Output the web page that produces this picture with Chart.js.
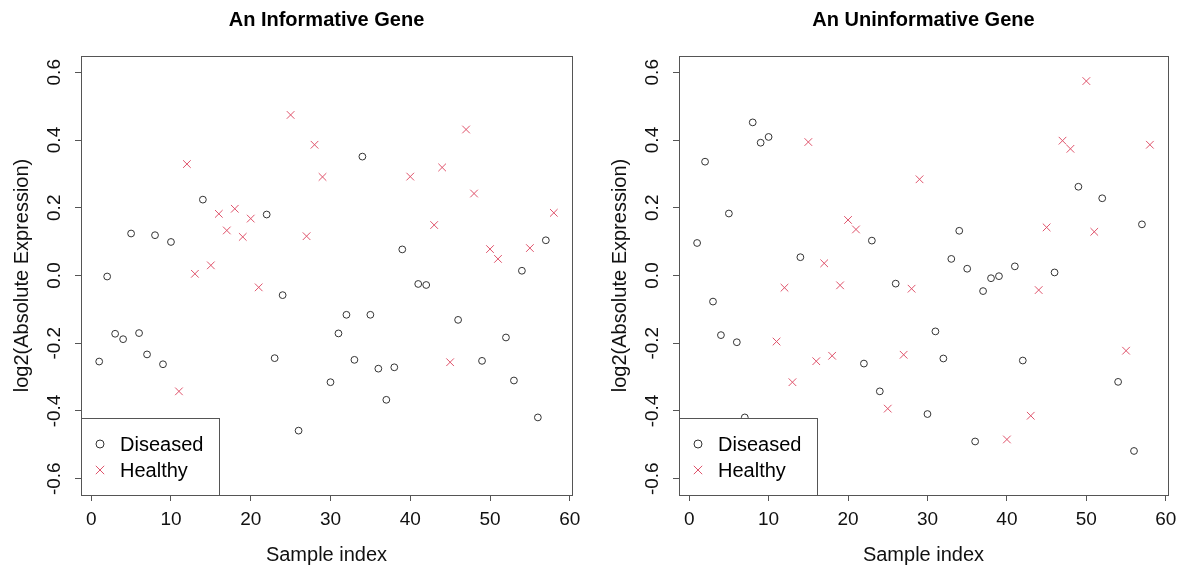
<!DOCTYPE html>
<html>
<head>
<meta charset="utf-8">
<title>An Informative Gene / An Uninformative Gene</title>
<script src="https://cdn.jsdelivr.net/npm/chart.js@4.4.0/dist/chart.umd.min.js"></script>
<style>
  html, body { margin: 0; padding: 0; background: #fff; }
  #wrap { position: relative; width: 1185px; height: 567px; overflow: hidden; }
  #wrap canvas { position: absolute; top: 0; }
  #grafInfo { left: 0; }
  #grafUninfo { left: 598px; }
</style>
</head>
<body>
<div id="wrap">
  <canvas id="grafInfo" width="598" height="567"></canvas>
  <canvas id="grafUninfo" width="587" height="567"></canvas>
</div>
<script>
/* ======= Data ======= */
const groupLabels = ['Diseased', 'Healthy'];

// sample index of each group
const diseasedIndex = [1, 2, 3, 4, 5, 6, 7, 8, 9, 10, 14, 22, 23, 24, 26, 30, 31, 32, 33, 34,
  35, 36, 37, 38, 39, 41, 42, 46, 49, 52, 53, 54, 56, 57];
const healthyIndex = [11, 12, 13, 15, 16, 17, 18, 19, 20, 21, 25, 27, 28, 29, 40, 43, 44, 45,
  47, 48, 50, 51, 55, 58];

// informative gene, log2 expression
const infoDiseased = [-0.254, -0.003, -0.172, -0.188, 0.124, -0.170, -0.233, 0.119, -0.262, 0.099,
  0.224, 0.180, -0.244, -0.058, -0.458, -0.315, -0.171, -0.116, -0.249, 0.351,
  -0.116, -0.275, -0.367, -0.271, 0.077, -0.025, -0.028, -0.131, -0.252, -0.183,
  -0.310, 0.014, -0.419, 0.104];
const infoHealthy = [-0.342, 0.329, 0.005, 0.030, 0.182, 0.133, 0.197, 0.114, 0.168, -0.035,
  0.474, 0.116, 0.386, 0.291, 0.292, 0.149, 0.319, -0.256, 0.431, 0.242,
  0.078, 0.049, 0.081, 0.185];

// uninformative gene (sample 53 falls outside the plotted range)
const uninfoDiseased = [0.096, 0.336, -0.077, -0.176, 0.183, -0.197, -0.419, 0.452, 0.392, 0.409,
  0.054, -0.260, 0.103, -0.342, -0.024, -0.409, -0.165, -0.245, 0.049, 0.132,
  0.020, -0.490, -0.046, -0.008, -0.002, 0.027, -0.251, 0.009, 0.262, 0.228,
  null, -0.314, -0.518, 0.151];
const uninfoHealthy = [-0.195, -0.036, -0.315, 0.394, -0.253, 0.036, -0.237, -0.029, 0.164, 0.136,
  -0.393, -0.234, -0.039, 0.284, -0.484, -0.414, -0.043, 0.142, 0.398, 0.374,
  0.574, 0.129, -0.222, 0.386];

const xTicks = [0, 10, 20, 30, 40, 50, 60];
const yTicks = [-0.6, -0.4, -0.2, 0.0, 0.2, 0.4, 0.6];
const xRange = [-1.28, 60.28];
const yRange = [-0.648, 0.648];

/* ======= Styles ======= */
const FONT = '"Liberation Sans", Arial, Helvetica, sans-serif';
const boxColor = '#555';
const textColor = '#111';
const circleColor = '#333';
const crossColor = '#DF536B';

Chart.defaults.font.family = FONT;
Chart.defaults.color = textColor;

function pares(idx, vals) {
  return idx.map((x, i) => ({ x: x, y: vals[i] }));
}

/* ======= Plugin: box around plot + R style legend ======= */
const caixaPlugin = {
  id: 'caixaPlugin',
  afterDatasetsDraw(chart) {
    const { ctx, chartArea: a } = chart;
    const ds = chart.data.datasets;
    ctx.save();

    // legend, bottom left inside the plot
    ctx.font = '20px ' + FONT;
    const textW = Math.max(...ds.map(d => ctx.measureText(d.label).width));
    const w = Math.round(39 + textW + 16);
    const h = 77;
    const x0 = Math.round(a.left), y0 = Math.round(a.bottom) - h;
    ctx.fillStyle = '#fff';
    ctx.fillRect(x0, y0, w, h);
    ctx.strokeStyle = boxColor;
    ctx.lineWidth = 1;
    ctx.strokeRect(x0 + 0.5, y0 + 0.5, w, h);

    ds.forEach((d, i) => {
      const cy = y0 + 26 + i * 26;
      const cx = x0 + 19;
      ctx.strokeStyle = d.borderColor;
      ctx.lineWidth = 1;
      ctx.beginPath();
      if (d.pointStyle === 'circle') {
        ctx.arc(cx, cy, 4, 0, Math.PI * 2);
      } else {
        const r = 4.2;
        ctx.moveTo(cx - r, cy - r); ctx.lineTo(cx + r, cy + r);
        ctx.moveTo(cx + r, cy - r); ctx.lineTo(cx - r, cy + r);
      }
      ctx.stroke();
      ctx.fillStyle = '#000';
      ctx.textBaseline = 'middle';
      ctx.textAlign = 'left';
      ctx.fillText(d.label, x0 + 39, cy + 1);
    });

    // full frame
    ctx.strokeStyle = boxColor;
    ctx.strokeRect(Math.round(a.left) + 0.5, Math.round(a.top) + 0.5,
      Math.round(a.right - a.left), Math.round(a.bottom - a.top));
    ctx.restore();
  }
};

/* ======= Charts ======= */
function criarGrafico(id, titulo, diseased, healthy, padRight) {
  return new Chart(document.getElementById(id), {
    type: 'scatter',
    data: {
      datasets: [
        {
          label: groupLabels[0],
          data: pares(diseasedIndex, diseased),
          pointStyle: 'circle',
          radius: 3.4,
          borderWidth: 1,
          borderColor: circleColor,
          backgroundColor: 'rgba(0,0,0,0)'
        },
        {
          label: groupLabels[1],
          data: pares(healthyIndex, healthy),
          pointStyle: 'crossRot',
          radius: 5.4,
          borderWidth: 1,
          borderColor: crossColor,
          backgroundColor: crossColor
        }
      ]
    },
    options: {
      responsive: false,
      animation: false,
      layout: { padding: { left: 0, top: 0, right: padRight, bottom: 0 } },
      plugins: {
        legend: { display: false },
        tooltip: { enabled: false },
        title: {
          display: true,
          text: titulo,
          fullSize: false,
          color: '#000',
          font: { size: 20, weight: 'bold' },
          padding: { top: 8, bottom: 24 }
        }
      },
      scales: {
        x: {
          type: 'linear',
          min: xRange[0],
          max: xRange[1],
          afterBuildTicks: s => { s.ticks = xTicks.map(v => ({ value: v })); },
          afterFit: s => { s.height = 72; },
          grid: { display: true, drawOnChartArea: false, drawTicks: true, tickLength: 6, color: boxColor },
          border: { display: true, color: boxColor },
          ticks: { padding: 7, font: { size: 19 }, color: textColor },
          title: { display: true, text: 'Sample index', color: textColor, font: { size: 20 }, padding: { top: 0, bottom: 0 } }
        },
        y: {
          type: 'linear',
          min: yRange[0],
          max: yRange[1],
          afterBuildTicks: s => { s.ticks = yTicks.map(v => ({ value: v })); },
          afterFit: s => { s.width = 81; },
          grid: { display: true, drawOnChartArea: false, drawTicks: true, tickLength: 6, color: boxColor },
          border: { display: true, color: boxColor },
          ticks: {
            padding: 4,
            minRotation: 90,
            maxRotation: 90,
            crossAlign: 'center',
            font: { size: 19 },
            color: textColor,
            callback: v => v.toFixed(1)
          },
          title: { display: true, text: 'log2(Absolute Expression)', color: textColor, font: { size: 20 }, padding: { top: 10, bottom: 0 } }
        }
      }
    },
    plugins: [caixaPlugin]
  });
}

document.addEventListener('DOMContentLoaded', () => {
  criarGrafico('grafInfo', 'An Informative Gene', infoDiseased, infoHealthy, 26);
  criarGrafico('grafUninfo', 'An Uninformative Gene', uninfoDiseased, uninfoHealthy, 17);
});
</script>
</body>
</html>
